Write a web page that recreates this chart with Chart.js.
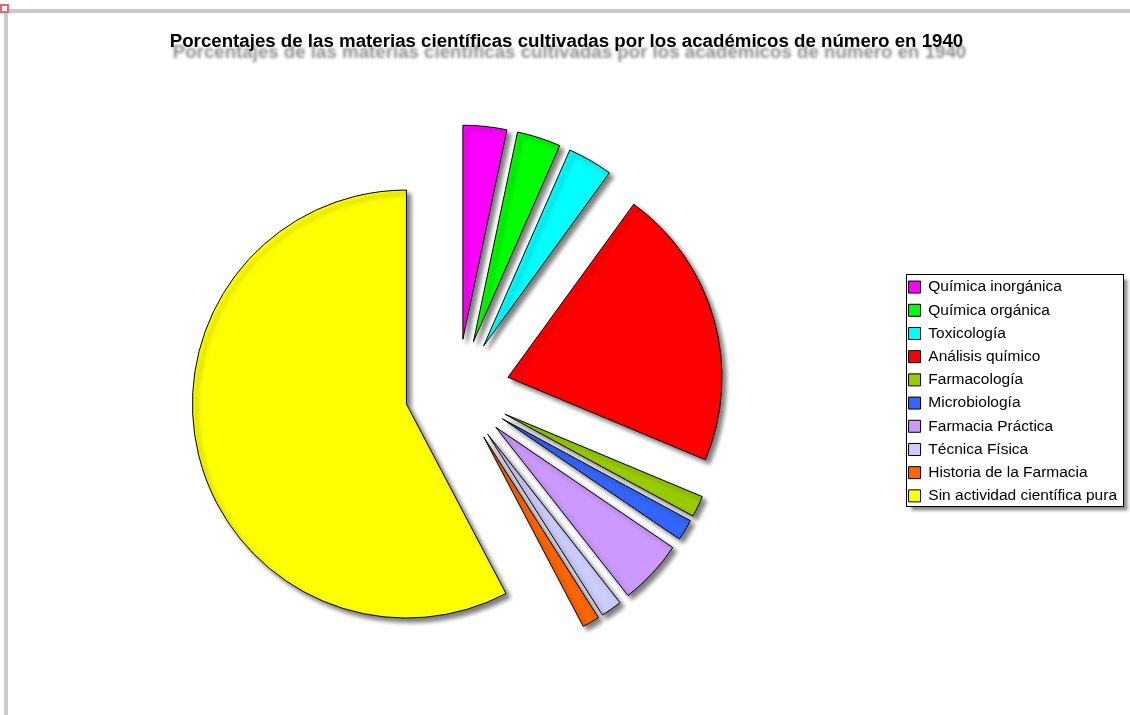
<!DOCTYPE html>
<html>
<head>
<meta charset="utf-8">
<script src="https://cdn.jsdelivr.net/npm/chart.js@4.4.1/dist/chart.umd.min.js"></script>
<style>
html,body{margin:0;padding:0;background:#fff;overflow:hidden}
#wrap{position:absolute;left:0;top:0;width:1130px;height:715px}
.deco{position:absolute;pointer-events:none}
</style>
</head>
<body>
<div id="wrap"><canvas id="c" width="1130" height="715"></canvas></div>
<div class="deco" style="left:8px;top:9px;width:1122px;height:4px;background:#cbcbcb"></div>
<div class="deco" style="left:4px;top:9px;width:4px;height:706px;background:#cbcbcb"></div>
<div class="deco" style="left:0;top:4px;width:5px;height:5px;border:2px solid #e06a6a;background:#fff"></div>
<script>
const titleText = 'Porcentajes de las materias científicas cultivadas por los académicos de número en 1940';
const categories = ['Química inorgánica','Química orgánica','Toxicología','Análisis químico','Farmacología','Microbiología','Farmacia Práctica','Técnica Física','Historia de la Farmacia','Sin actividad científica pura'];
const percentages = [3.3, 3.3, 3.4, 21.3, 1.6, 1.6, 4.9, 1.6, 1.3, 57.7];
const sliceColors = ['#FF00FF','#00FF00','#00FFFF','#FF0000','#99CC00','#3366FF','#CC99FF','#CCCCFF','#FF6600','#FFFF00'];

Chart.defaults.font.family = "'Liberation Sans', Arial, sans-serif";
Chart.defaults.color = '#000';

const EXPLODE = 52.5; // distance every slice is pulled out from the centre (px)

const fx = {
  id: 'fx',
  beforeDraw(chart) {
    const ctx = chart.ctx;
    const hb = chart.legend && chart.legend.legendHitBoxes;
    if (hb && hb.length) {
      let l = Infinity, t = Infinity, r = -Infinity, b = -Infinity;
      hb.forEach(h => { l = Math.min(l, h.left); t = Math.min(t, h.top); r = Math.max(r, h.left + h.width); b = Math.max(b, h.top + h.height); });
      const x = Math.round(l - 3) + 0.5, y = Math.round(t - 5.5) + 0.5;
      const w = Math.round(r + 6 - l + 3), hgt = Math.round(b + 2 - t + 5.5);
      ctx.save();
      ctx.shadowColor = 'rgba(0,0,0,0.45)';
      ctx.shadowBlur = 3; ctx.shadowOffsetX = 4; ctx.shadowOffsetY = 4;
      ctx.fillStyle = '#fff';
      ctx.fillRect(x, y, w, hgt);
      ctx.restore();
      ctx.save();
      ctx.strokeStyle = '#000'; ctx.lineWidth = 1;
      ctx.strokeRect(x, y, w, hgt);
      ctx.restore();
    }
  },
  beforeDatasetsDraw(chart) {
    const meta = chart.getDatasetMeta(0);
    const ca = chart.chartArea;
    const cx = (ca.left + ca.right) / 2 + (chart.offsetX || 0);
    const cy = (ca.top + ca.bottom) / 2 + (chart.offsetY || 0);
    meta.data.forEach(arc => {
      const mid = (arc.startAngle + arc.endAngle) / 2;
      arc.x = cx + Math.cos(mid) * EXPLODE;
      arc.y = cy + Math.sin(mid) * EXPLODE;
    });
    const ctx = chart.ctx;
    ctx.save();
    ctx.shadowColor = 'rgba(0,0,0,0.5)';
    ctx.shadowBlur = 4; ctx.shadowOffsetX = 4; ctx.shadowOffsetY = 4;
  },
  afterDatasetsDraw(chart) {
    chart.ctx.restore();
  }
};

const chart = new Chart(document.getElementById('c'), {
  type: 'pie',
  data: {
    labels: categories,
    datasets: [{
      data: percentages,
      backgroundColor: sliceColors,
      borderColor: '#000',
      borderWidth: 1,
      clip: false
    }]
  },
  options: {
    responsive: false,
    animation: false,
    devicePixelRatio: 1,
    events: [],
    radius: 214,
    layout: { padding: { left: 14, right: 3, top: 0, bottom: 5.5 } },
    plugins: {
      title: {
        display: true,
        text: titleText,
        font: { size: 18.7, weight: 'bold' },
        color: '#000',
        padding: { top: 31, bottom: 20 }
      },
      legend: {
        position: 'right',
        fullSize: false,
        labels: {
          boxWidth: 12,
          boxHeight: 12,
          padding: 7.7,
          font: { size: 15.5 },
          color: '#000'
        }
      },
      tooltip: { enabled: false }
    }
  },
  plugins: [fx]
});

// soft drop shadow under the title
const tb = chart.titleBlock;
const origTitleDraw = tb.draw;
tb.draw = function (area) {
  const c = this.ctx;
  c.save();
  c.translate(-4, 0);
  c.shadowColor = 'rgba(0,0,0,0.45)';
  c.shadowBlur = 3; c.shadowOffsetX = 3; c.shadowOffsetY = 11;
  origTitleDraw.call(this, area);
  c.restore();
};
chart.draw();
</script>
</body>
</html>
